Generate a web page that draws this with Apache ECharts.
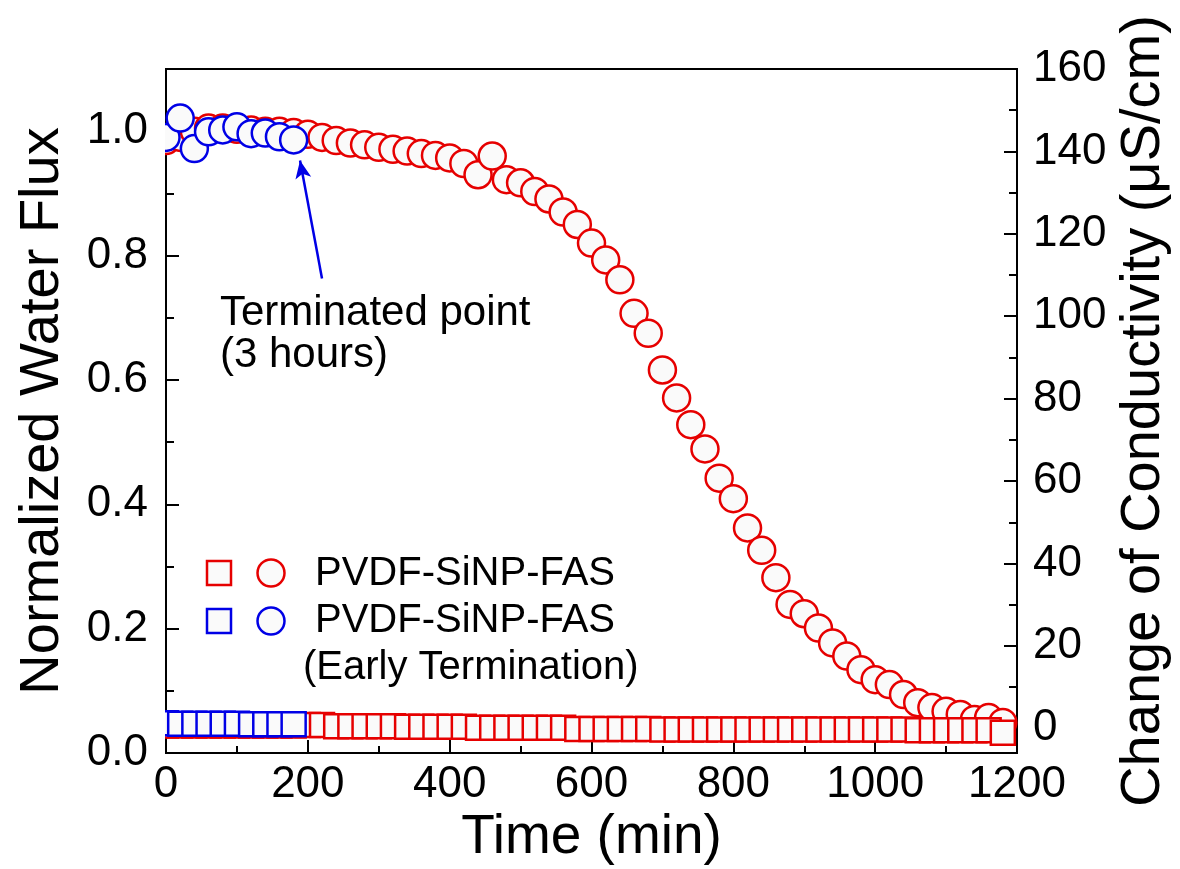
<!DOCTYPE html>
<html><head><meta charset="utf-8">
<script src="https://cdn.jsdelivr.net/npm/echarts@6/dist/echarts.min.js"></script>
<style>html,body{margin:0;padding:0;background:#fff}#c{width:1180px;height:869px}</style>
</head><body><div id="c"></div>
<script>
const timeRed = [0,20,40,60,80,100,120,140,160,180,200,220,240,260,280,300,320,340,360,380,400,420,440,460,480,500,520,540,560,580,600,620,640,660,680,700,720,740,760,780,800,820,840,860,880,900,920,940,960,980,1000,1020,1040,1060,1080,1100,1120,1140,1160,1180];
const fluxRed = [0.985,0.99,1.0,1.005,1.005,1.003,1.002,1.0,1.0,0.998,0.995,0.99,0.985,0.981,0.978,0.974,0.971,0.968,0.964,0.961,0.957,0.948,0.930,0.960,0.922,0.917,0.903,0.891,0.870,0.850,0.820,0.793,0.761,0.707,0.675,0.616,0.571,0.528,0.489,0.442,0.409,0.362,0.326,0.282,0.239,0.224,0.201,0.177,0.156,0.134,0.118,0.110,0.094,0.081,0.073,0.067,0.062,0.054,0.057,0.049];
const condRed = [0.7,0.7,0.7,0.7,0.7,0.7,0.7,0.7,0.7,0.7,0.8,0.8,0.5,0.5,0.5,0.5,0.5,0.35,0.35,0.35,0.35,0.35,0.1,0.1,0.1,0.1,0.1,0.1,0.1,-0.2,-0.2,-0.2,-0.2,-0.2,-0.2,-0.3,-0.3,-0.3,-0.3,-0.3,-0.3,-0.3,-0.3,-0.3,-0.3,-0.3,-0.3,-0.3,-0.3,-0.3,-0.3,-0.3,-0.3,-0.45,-0.45,-0.45,-0.45,-0.45,-0.45,-1.1];
const timeBlue = [0,20,40,60,80,100,120,140,160,180];
const fluxBlue = [0.99,1.021,0.972,0.999,1.002,1.007,0.996,0.997,0.991,0.986];
const condBlue = [1.2,1.1,1.1,1.1,1.1,1.1,1.0,1.0,1.0,1.0];
const leftTicks = [0,0.2,0.4,0.6,0.8,1.0];
const leftMinor = [0.1,0.3,0.5,0.7,0.9];
const rightTicks = [0,20,40,60,80,100,120,140,160];
const rightMinor = [10,30,50,70,90,110,130,150];
const arrowFrom = [220,0.763];
const arrowTo = [189,0.953];

const RED = '#e60000', BLUE = '#0000e6', FILL = '#fafafa';
const FONT = 'Liberation Sans, Arial, sans-serif';
const pairs = (xs, ys) => xs.map((x, i) => [x, ys[i]]);

const chart = echarts.init(document.getElementById('c'), null, {renderer: 'canvas'});
const axLine = {show: true, lineStyle: {color: '#000', width: 2}};
function yMajor(pos, min, max, ticks, fmt, name, gap) {
  return {
    type: 'value', position: pos, min: min, max: max,
    axisLine: axLine,
    axisTick: {show: true, inside: true, length: 13, lineStyle: {color: '#000', width: 2}, customValues: ticks},
    axisLabel: {show: true, customValues: ticks, formatter: fmt, color: '#000', fontSize: 44, fontFamily: FONT, margin: pos === 'left' ? 18 : 16},
    splitLine: {show: false},
    name: name, nameLocation: 'middle', nameGap: gap, nameMoveOverlap: false,
    nameTextStyle: {color: '#000', fontSize: 56, fontFamily: FONT}
  };
}
function yMinor(pos, min, max, ticks) {
  return {
    type: 'value', position: pos, min: min, max: max,
    axisLine: {show: false},
    axisTick: {show: true, inside: true, length: 8, lineStyle: {color: '#000', width: 2}, customValues: ticks},
    axisLabel: {show: false}, splitLine: {show: false}
  };
}

chart.setOption({
  animation: false,
  backgroundColor: '#fff',
  grid: {left: 166, right: 163, top: 69, bottom: 116, show: true, borderColor: '#000', borderWidth: 2, outerBoundsMode: 'none', containLabel: false},
  xAxis: {
    type: 'value', min: 0, max: 1200, interval: 200,
    axisLine: axLine,
    axisTick: {show: true, inside: true, length: 13, lineStyle: {color: '#000', width: 2}},
    minorTick: {show: true, splitNumber: 2, length: 7, lineStyle: {color: '#000', width: 2}},
    axisLabel: {color: '#000', fontSize: 44, fontFamily: FONT, margin: 10, formatter: v => String(v)},
    splitLine: {show: false}, minorSplitLine: {show: false},
    name: 'Time (min)', nameLocation: 'middle', nameGap: 57, nameMoveOverlap: false,
    nameTextStyle: {color: '#000', fontSize: 55, fontFamily: FONT}
  },
  yAxis: [
    yMajor('left', 0, 1.1, leftTicks, v => Number(v).toFixed(1), 'Normalized Water Flux', 95),
    yMajor('right', -6, 160, rightTicks, v => String(Math.round(v)), 'Change of Conductivity (μS/cm)', 99),
    yMinor('left', 0, 1.1, leftMinor),
    yMinor('right', -6, 160, rightMinor)
  ],
  series: [
    {type: 'scatter', name: 'flux', yAxisIndex: 0, data: pairs(timeRed, fluxRed), symbol: 'circle', symbolSize: 27,
     itemStyle: {color: FILL, borderColor: RED, borderWidth: 2.5, opacity: 1}},
    {type: 'scatter', name: 'fluxEarly', yAxisIndex: 0, data: pairs(timeBlue, fluxBlue), symbol: 'circle', symbolSize: 27,
     itemStyle: {color: FILL, borderColor: BLUE, borderWidth: 2.5, opacity: 1},
     markLine: {silent: true, symbol: ['none', 'arrow'], symbolSize: [12, 18], label: {show: false},
       lineStyle: {color: BLUE, width: 2.5, type: 'solid'}, emphasis: {disabled: true},
       data: [[{coord: arrowFrom}, {coord: arrowTo}]]}},
    {type: 'scatter', name: 'cond', yAxisIndex: 1, data: pairs(timeRed, condRed), symbol: 'rect', symbolSize: 24,
     itemStyle: {color: FILL, borderColor: RED, borderWidth: 2.5, opacity: 1}},
    {type: 'scatter', name: 'condEarly', yAxisIndex: 1, data: pairs(timeBlue, condBlue), symbol: 'rect', symbolSize: 24,
     itemStyle: {color: FILL, borderColor: BLUE, borderWidth: 2.5, opacity: 1}}
  ],
  graphic: [
    {type: 'rect', z: 100, shape: {x: 150, y: 75, width: 15, height: 675}, style: {fill: '#fff'}, silent: true},
    {type: 'text', left: 220, top: 292, style: {text: 'Terminated point', fill: '#000', font: '42px ' + FONT}},
    {type: 'text', left: 220, top: 334, style: {text: '(3 hours)', fill: '#000', font: '42px ' + FONT}},
    {type: 'rect', shape: {x: 207, y: 561, width: 24, height: 24}, style: {fill: FILL, stroke: RED, lineWidth: 2.5}},
    {type: 'circle', shape: {cx: 271, cy: 573, r: 13.5}, style: {fill: FILL, stroke: RED, lineWidth: 2.5}},
    {type: 'text', left: 315, top: 554, style: {text: 'PVDF-SiNP-FAS', fill: '#000', font: '40px ' + FONT}},
    {type: 'rect', shape: {x: 207, y: 609, width: 24, height: 24}, style: {fill: FILL, stroke: BLUE, lineWidth: 2.5}},
    {type: 'circle', shape: {cx: 271, cy: 621, r: 13.5}, style: {fill: FILL, stroke: BLUE, lineWidth: 2.5}},
    {type: 'text', left: 315, top: 601, style: {text: 'PVDF-SiNP-FAS', fill: '#000', font: '40px ' + FONT}},
    {type: 'text', left: 303, top: 648, style: {text: '(Early Termination)', fill: '#000', font: '40px ' + FONT}}
  ]
});
</script></body></html>
